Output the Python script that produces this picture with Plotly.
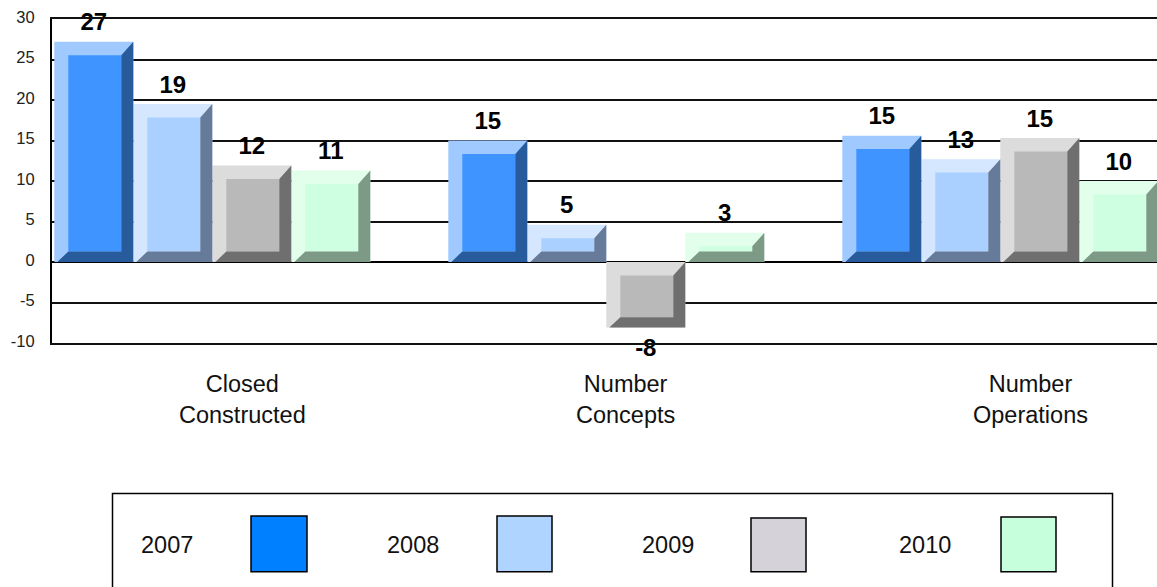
import plotly.graph_objects as go

# ---- data ----
categories = ["Closed<br>Constructed", "Number<br>Concepts", "Number<br>Operations"]
years = ["2007", "2008", "2009", "2010"]
v2007 = [27.2, 15.0, 15.6]
v2008 = [19.5, 4.6, 12.7]
v2009 = [11.9, -8.1, 15.3]
v2010 = [11.3, 3.6, 10.0]
labels2007 = ["27", "15", "15"]
labels2008 = ["19", "5", "13"]
labels2009 = ["12", "-8", "15"]
labels2010 = ["11", "3", "10"]
y_ticks = [-10, -5, 0, 5, 10, 15, 20, 25, 30]

series = [v2007, v2008, v2009, v2010]
series_labels = [labels2007, labels2008, labels2009, labels2010]
light = ["#9FC9FF", "#D5E6FF", "#DCDCDC", "#E2FFEB"]
inner = ["#3F94FF", "#AAD0FF", "#B9B9B9", "#CFFFE1"]
dark = ["#275B9B", "#667B99", "#6F6F6F", "#7D9A87"]
swatch = ["#007FFF", "#AED4FF", "#D6D2DA", "#C6FFDC"]

# ---- layout geometry (pixels) ----
W, H = 1157, 587
L, T, B = 52, 18.5, 343.5
PITCH = 394.0
G0 = 212.3
PX_Y = (B - T) / 40.0
dx = 1 / PITCH
dy = 1 / PX_Y
BAR = 79 * dx
FONT = "Liberation Sans, Arial, sans-serif"

fig = go.Figure()
for s, vals in enumerate(series):
    xs = [i + (s - 1.5) * BAR for i in range(len(vals))]
    # body of the bar: the light bevel colour
    fig.add_trace(go.Bar(x=xs, y=vals, width=BAR, marker=dict(color=light[s], line=dict(width=0)),
                         hoverinfo="skip", showlegend=False))
    polyx, polyy, inx, inb, inh, tx, ty, tp = [], [], [], [], [], [], [], []
    for x, v in zip(xs, vals):
        l, r = x - BAR / 2, x + BAR / 2
        hi, lo = max(v, 0), min(v, 0)
        il, ir = l + 14 * dx, r - 12 * dx
        ihi, ilo = hi - 13.5 * dy, lo + 10.5 * dy
        # right and bottom dark bevels
        polyx += [r, r, ir, ir, r, None, l + 3 * dx, r, ir, il, l + 3 * dx, None]
        polyy += [hi, lo, ilo, ihi, hi, None, lo, lo, ilo, ilo, lo, None]
        inx.append((il + ir) / 2)
        inb.append(ilo)
        inh.append(ihi - ilo)
        tx.append(x)
        ty.append(v + (5.5 if v >= 0 else -10) * dy)
        tp.append("top center" if v >= 0 else "bottom center")
    fig.add_trace(go.Bar(x=inx, y=inh, base=inb, width=ir - il,
                         marker=dict(color=inner[s], line=dict(width=0)),
                         hoverinfo="skip", showlegend=False))
    fig.add_trace(go.Scatter(x=polyx, y=polyy, mode="lines", fill="toself", fillcolor=dark[s],
                             line=dict(width=0), hoverinfo="skip", showlegend=False))
    fig.add_trace(go.Scatter(x=tx, y=ty, mode="text", text=series_labels[s],
                             textposition=tp, cliponaxis=False,
                             textfont=dict(family=FONT, size=24, color="#000000", weight="bold"),
                             hoverinfo="skip", showlegend=False))

shapes = []
annotations = []


def px(x):
    return (x - L) / (W - L)


def py(y):
    return (B - y) / (B - T)


# category captions
for text, cx in zip(categories, [242, 625, 1030]):
    annotations.append(dict(text=text, xref="paper", yref="paper", x=px(cx), y=py(400.5), showarrow=False,
                            xanchor="center", yanchor="middle", align="center",
                            font=dict(family=FONT, size=23.5, color="#111111")))

# legend panel (its lower edge falls outside the picture)
shapes.append(dict(type="rect", xref="paper", yref="paper", x0=px(112.5), x1=px(1112.5), y0=py(600), y1=py(494.5),
                   line=dict(color="#000000", width=1.5), fillcolor="rgba(0,0,0,0)"))
for yr, col, tx_, sx0, sx1, sy0 in zip(years, swatch, [166.5, 412.5, 668, 925], [251, 497, 751, 1001],
                                       [307, 552, 806, 1056], [517, 517, 519, 518]):
    shapes.append(dict(type="rect", xref="paper", yref="paper", x0=px(sx0), x1=px(sx1), y0=py(573), y1=py(sy0),
                       line=dict(color="#000000", width=1.5), fillcolor=col))
    annotations.append(dict(text=yr, xref="paper", yref="paper", x=px(tx_), y=py(546), showarrow=False,
                            xanchor="center", yanchor="middle",
                            font=dict(family=FONT, size=23.5, color="#111111")))

fig.update_layout(
    width=W, height=H, margin=dict(l=L, r=0, t=T, b=H - B, pad=0),
    paper_bgcolor="white", plot_bgcolor="white", barmode="overlay", showlegend=False,
    xaxis=dict(range=[(L - G0) / PITCH, (W - G0) / PITCH], fixedrange=True, showticklabels=False, ticks="",
               showgrid=False, zeroline=False, showline=True, mirror=True, linecolor="#111111", linewidth=1.5),
    yaxis=dict(range=[-10, 30], tickvals=y_ticks, ticktext=[str(t) for t in y_ticks], ticks="",
               ticklabelstandoff=12, ticklabelshift=-2, tickfont=dict(family=FONT, size=16.5, color="#222222"),
               showgrid=True, gridcolor="#111111", gridwidth=1.5,
               zeroline=True, zerolinecolor="#000000", zerolinewidth=1.5,
               showline=True, linecolor="#000000", linewidth=2, fixedrange=True),
    shapes=shapes, annotations=annotations,
)

fig.write_html("out.html", config=dict(displayModeBar=False),
               post_script="document.body.style.margin='0';document.body.style.overflow='hidden';")
